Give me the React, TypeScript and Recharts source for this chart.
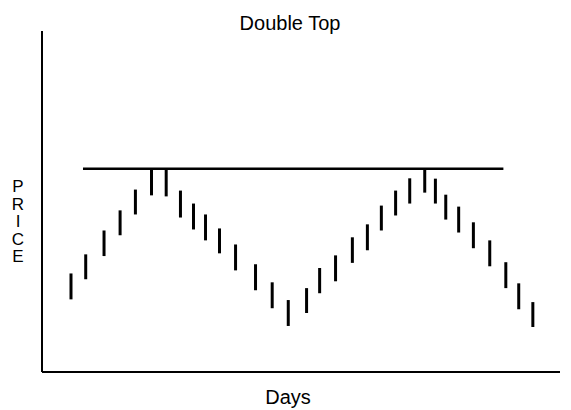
import { ComposedChart, Bar, XAxis, YAxis, ReferenceLine } from 'recharts';

// trading days (position along the x axis) and the daily low / high
const days = [
  1.91, 2.89, 4.11, 5.18, 6.2, 7.27, 8.25, 9.2, 10.07, 10.87, 11.8, 12.87, 14.2, 15.31, 16.38,
  17.6, 18.47, 19.53, 20.65, 21.65, 22.58, 23.53, 24.47, 25.47, 26.18, 26.87, 27.73, 28.71, 29.8,
  30.87, 31.73, 32.67,
];
const lows = [
  21.3, 27.2, 34.0, 40.1, 46.2, 51.8, 51.5, 45.3, 41.8, 38.6, 34.8, 29.8, 24.0, 18.7, 13.5,
  17.3, 23.1, 26.6, 32.0, 35.7, 41.5, 45.9, 49.4, 52.6, 49.4, 44.7, 40.9, 36.3, 31.0, 24.6,
  18.4, 13.2,
];
const highs = [
  28.9, 34.5, 41.5, 47.4, 53.5, 59.4, 59.4, 53.2, 49.4, 46.2, 42.1, 37.4, 31.6, 26.3, 21.1,
  24.6, 30.5, 34.2, 39.5, 43.3, 48.8, 53.2, 56.8, 59.6, 56.7, 52.0, 48.5, 43.9, 38.6, 32.2,
  26.0, 20.5,
];

// resistance line across the two tops
const resistanceLevel = 59.6;
const resistanceFrom = 2.73;
const resistanceTo = 30.73;

const priceLetters = ['P', 'R', 'I', 'C', 'E'];

const data = days.map((d, i) => ({ day: d, range: [lows[i], highs[i]] }));

const font = '"Liberation Sans", Arial, sans-serif';

export default function App() {
  return (
    <div style={{ position: 'absolute', left: 0, top: 0, width: 571, height: 410, background: '#fff', fontFamily: font, color: '#000' }}>
      <ComposedChart width={571} height={410} data={data} margin={{ top: 31, right: 11, bottom: 38, left: 42 }}>
        <XAxis dataKey="day" type="number" domain={[0, 34.5]} hide />
        <YAxis type="number" domain={[0, 100]} hide />
        {/* axis lines */}
        <ReferenceLine x={0} stroke="#000" strokeWidth={2} />
        <ReferenceLine y={0} stroke="#000" strokeWidth={2} />
        <ReferenceLine
          segment={[
            { x: resistanceFrom, y: resistanceLevel },
            { x: resistanceTo, y: resistanceLevel },
          ]}
          stroke="#000"
          strokeWidth={2.5}
        />
        <Bar dataKey="range" fill="#000" barSize={3} isAnimationActive={false} />
      </ComposedChart>
      <div style={{ position: 'absolute', left: 190, width: 200, top: 11, textAlign: 'center', fontSize: 20, lineHeight: '24px', fontWeight: 500 }}>Double Top</div>
      <div style={{ position: 'absolute', left: 188, width: 200, top: 385, textAlign: 'center', fontSize: 20, lineHeight: '24px', fontWeight: 500 }}>Days</div>
      <div style={{ position: 'absolute', left: 10, top: 178, width: 16, textAlign: 'center', fontSize: 17, lineHeight: '17.5px' }}>
        {priceLetters.map((l) => (
          <div key={l}>{l}</div>
        ))}
      </div>
    </div>
  );
}
